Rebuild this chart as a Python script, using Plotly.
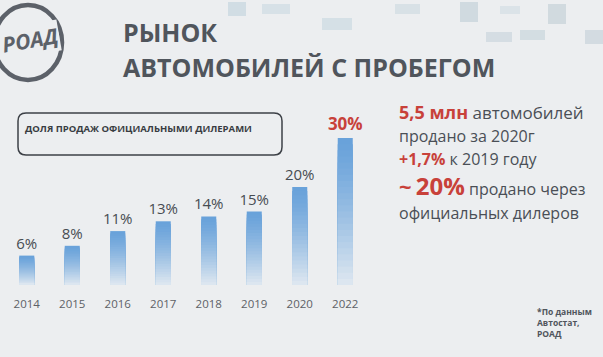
import plotly.graph_objects as go

years = ["2014", "2015", "2016", "2017", "2018", "2019", "2020", "2022"]
shares = [6, 8, 11, 13, 14, 15, 20, 30]
labels = [f"{v}%" for v in shares]
legend_text = "ДОЛЯ ПРОДАЖ ОФИЦИАЛЬНЫМИ ДИЛЕРАМИ"
title_lines = ["РЫНОК", "АВТОМОБИЛЕЙ С ПРОБЕГОМ"]
source_note = "*По данным<br>Автостат,<br>РОАД"

W, H = 603, 357
L, T, PW, PH = 4, 100, 364, 185
BG = "#eceef0"
RED = "#c8413a"
DARK = "#4a4f56"
FONT = "Open Sans"


def px(x):
    return (x - L) / PW


def py(y):
    return (T + PH - y) / PH


def mix(c1, c2, t):
    a = [int(c1[i:i + 2], 16) for i in (1, 3, 5)]
    b = [int(c2[i:i + 2], 16) for i in (1, 3, 5)]
    return "#%02x%02x%02x" % tuple(round(a[k] + (b[k] - a[k]) * t) for k in range(3))


fig = go.Figure()
N = 24
top_c, bot_c = "#69a2da", "#e3eaf1"
for k in range(N):
    f = 1 - k / N
    t = (k / N) ** 1.3
    col = mix(top_c, bot_c, t)
    kw = {}
    if k == 0:
        kw = dict(
            text=[f"<b>{l}</b>" if i == len(labels) - 1 else l for i, l in enumerate(labels)],
            textposition="outside",
            constraintext="none",
            textfont=dict(
                family=FONT,
                size=[15] * (len(labels) - 1) + [17],
                color=["#474c52"] * (len(labels) - 1) + [RED],
            ),
            cliponaxis=False,
        )
    fig.add_trace(go.Bar(
        x=years, y=[v * f for v in shares], width=0.33,
        marker=dict(color=col, line=dict(width=0)),
        hoverinfo="skip", showlegend=False, **kw,
    ))

fig.update_layout(
    width=W, height=H, barmode="overlay",
    margin=dict(l=L, r=W - L - PW, t=T, b=H - T - PH),
    paper_bgcolor=BG, plot_bgcolor=BG,
    font=dict(family=FONT, color=DARK),
    xaxis=dict(type="category", range=[-0.5, 7.5], showgrid=False, zeroline=False,
               showline=False, ticks="outside", ticklen=8, tickcolor=BG,
               tickfont=dict(size=11.5, color="#5d6166", family=FONT)),
    yaxis=dict(range=[0, PH / 4.9], visible=False),
)

shapes = []
# decorative faint squares at top
for (x0, y0, x1, y1, c) in [
    (228, 2, 246, 16, "#a9c3d3"), (262, 4, 290, 14, "#b9cdd9"), (322, 18, 352, 30, "#b5cbd8"),
    (395, 4, 420, 14, "#bccdd8"), (460, 2, 478, 22, "#a8bcc8"), (486, 32, 512, 42, "#b3c4cf"),
    (520, 30, 545, 40, "#b0c2cd"), (548, 4, 566, 24, "#aabbc6"), (585, 30, 603, 44, "#aebfca"),
    (500, 6, 520, 14, "#c3d2dc"),
]:
    shapes.append(dict(type="rect", xref="paper", yref="paper", x0=px(x0), x1=px(x1),
                       y0=py(y1), y1=py(y0), fillcolor=c, opacity=0.4, line=dict(width=0),
                       layer="below"))
# logo circle
shapes.append(dict(type="circle", xref="paper", yref="paper", x0=px(-6), x1=px(62),
                   y0=py(80), y1=py(5), line=dict(color="#5c6169", width=4.5)))
# rounded legend box
x0, x1, y0, y1, r = px(18), px(282), py(155), py(113), 8
rx, ry = r / PW, r / PH
path = (f"M{x0+rx},{y1} L{x1-rx},{y1} Q{x1},{y1} {x1},{y1-ry} L{x1},{y0+ry} "
        f"Q{x1},{y0} {x1-rx},{y0} L{x0+rx},{y0} Q{x0},{y0} {x0},{y0+ry} "
        f"L{x0},{y1-ry} Q{x0},{y1} {x0+rx},{y1} Z")
shapes.append(dict(type="path", xref="paper", yref="paper", path=path,
                   line=dict(color="#3d4147", width=1.5)))
fig.update_layout(shapes=shapes)

ann = []


def add(text, x, y, size, color=DARK, xanchor="left", **kw):
    ann.append(dict(text=text, x=px(x), y=py(y), xref="paper", yref="paper",
                    xanchor=xanchor, yanchor="middle", showarrow=False,
                    font=dict(family=FONT, size=size, color=color), **kw))


add("<b><i>РОАД</i></b>", 30, 40, 21, color="#5c6169", xanchor="center", bgcolor=BG,
    textangle=-10)
add(f"<b>{title_lines[0]}</b>", 121, 32, 25, color="#50555c")
add(f"<b>{title_lines[1]}</b>", 121, 67, 25, color="#50555c")
add(f"<b>{legend_text}</b>", 23, 128, 9.5, color="#383c42")
add(f"<span style='color:{RED};font-size:18px'><b>5,5 млн</b></span> автомобилей", 397, 112, 17)
add("продано за 2020г", 397, 136, 16)
add(f"<span style='color:{RED}'><b>+1,7%</b></span> к 2019 году", 397, 159, 16)
add(f"<span style='color:{RED}'><b><span style='font-size:22px'>~</span> <span style='font-size:24px'>20%</span></b></span> продано через",
    397, 185, 16)
add("официальных дилеров", 397, 213, 16)
add(f"<b>{source_note}</b>", 535, 322, 8.5, color="#50555c", align="left")
fig.update_layout(annotations=ann)

fig.write_html("out.html", config={"displayModeBar": False},
               post_script="document.body.style.margin='0';document.body.style.overflow='hidden';")
